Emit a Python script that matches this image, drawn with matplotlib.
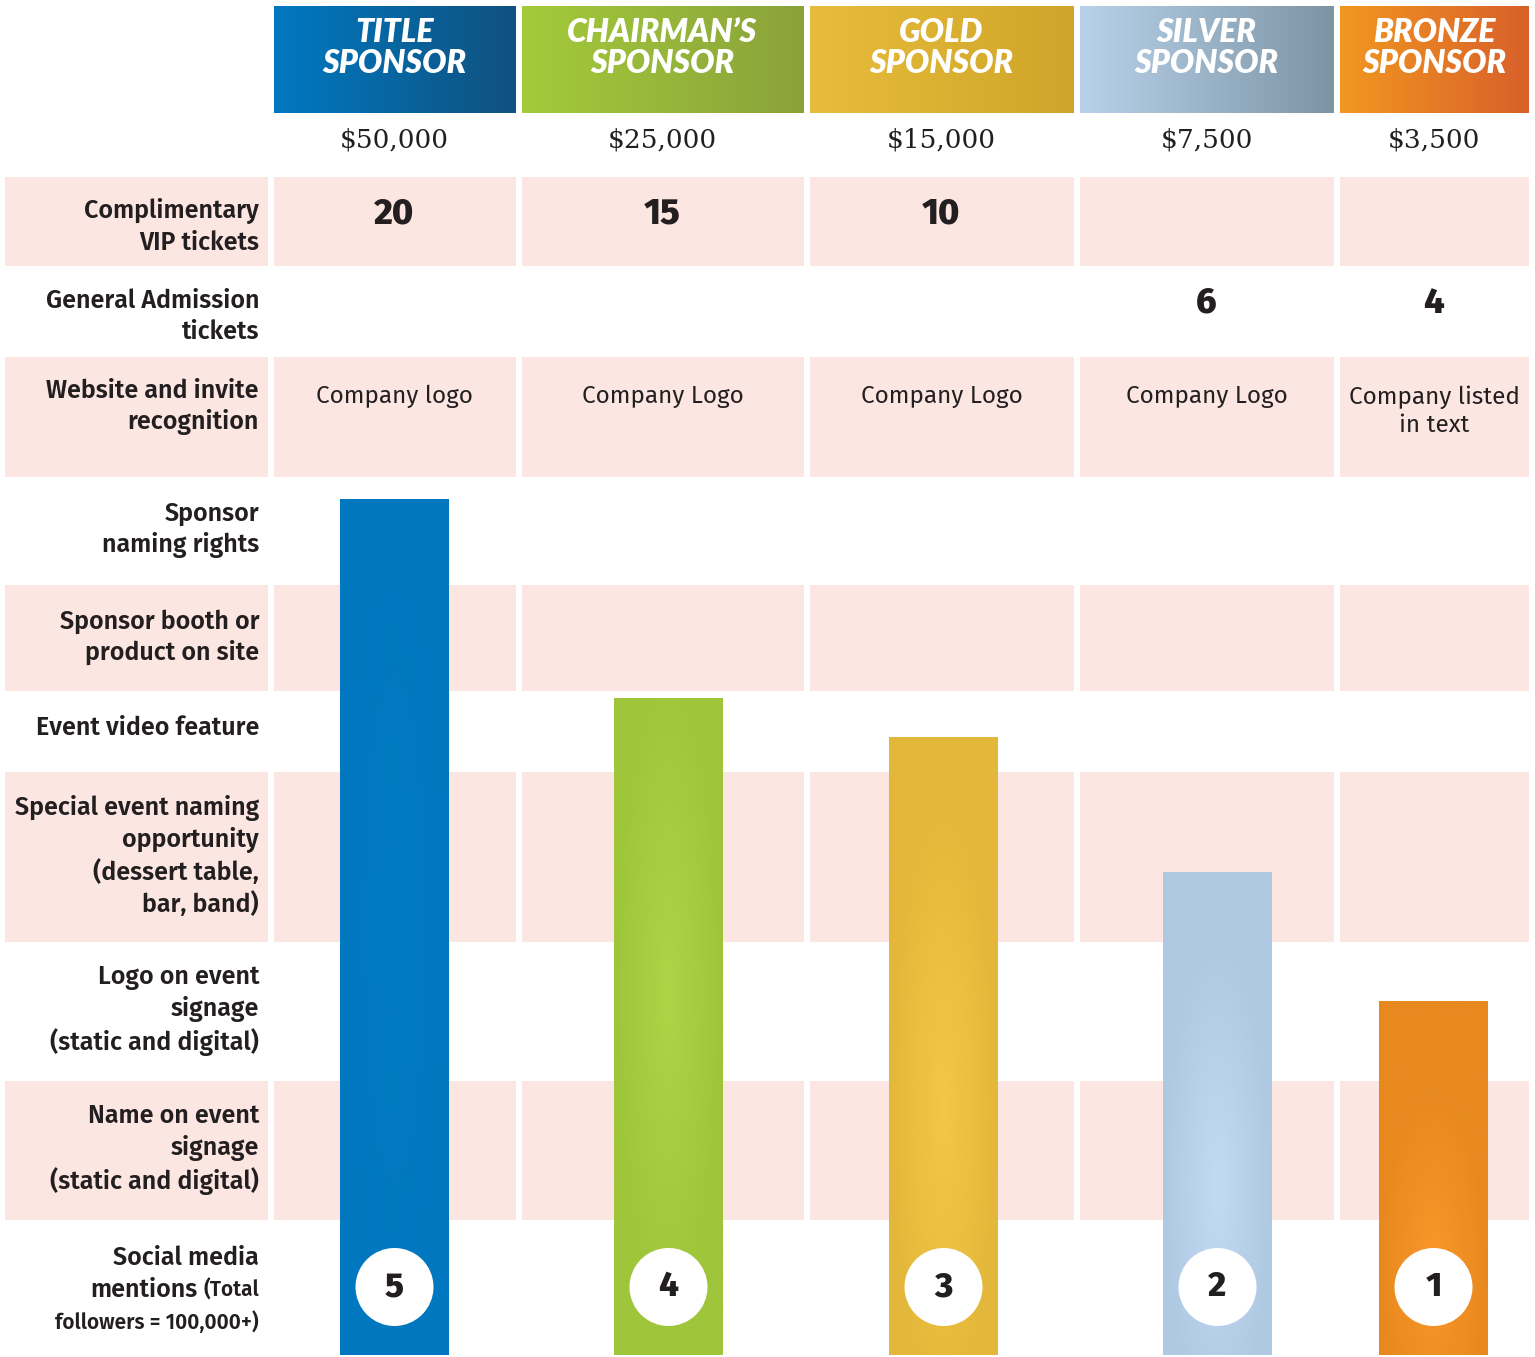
import numpy as np
import matplotlib
matplotlib.use('Agg')
import matplotlib.pyplot as plt
from matplotlib.patches import Rectangle, Circle
from matplotlib.colors import LinearSegmentedColormap, to_rgb

# tiers and their values
tiers = ['TITLE\nSPONSOR', 'CHAIRMAN\u2019S\nSPONSOR', 'GOLD\nSPONSOR', 'SILVER\nSPONSOR', 'BRONZE\nSPONSOR']
prices = ['$50,000', '$25,000', '$15,000', '$7,500', '$3,500']
vip_tickets = ['20', '15', '10', '', '']
ga_tickets = ['', '', '', '6', '4']
web_recognition = ['Company logo', 'Company Logo', 'Company Logo', 'Company Logo', 'Company listed\nin text']
social_mentions = [5, 4, 3, 2, 1]
bar_heights = [856, 657, 618, 483, 354]

row_labels = [
    'Complimentary\nVIP tickets',
    'General Admission\ntickets',
    'Website and invite\nrecognition',
    'Sponsor\nnaming rights',
    'Sponsor booth or\nproduct on site',
    'Event video feature',
    'Special event naming\nopportunity\n(dessert table,\nbar, band)',
    'Logo on event\nsignage\n(static and digital)',
    'Name on event\nsignage\n(static and digital)',
    '',
]

# layout (pixels)
W, H = 1535, 1357
col_left = [272, 520, 808, 1078, 1338]
col_right = [517, 805, 1075, 1335, 1530]
bar_x = [394.5, 668.5, 943.5, 1217.5, 1433.5]
bar_w = 109
bar_base = 1355
row_edges = [177, 266, 357, 477, 585, 691, 772, 942, 1081, 1220, 1357]
label_nudge = [5, 5, -10, -1, -1, -4, -1, -1, -1, 0]
head_top, head_bot = 6, 113

head_cols = [('#0079c1', '#10517f'), ('#a3cb3a', '#8aa23b'), ('#e8bd3b', '#cfa52a'),
             ('#b9d2ea', '#7c94a4'), ('#f29720', '#d8602a')]
bar_cols = ['#0077bf', '#9fc53b', '#e3b83a', '#b0c9e2', '#e8891f']
glow_amt = [0.01, 0.035, 0.035, 0.04, 0.035]
glow_y = [0.5, 0.45, 0.6, 0.65, 0.75]
pink = '#fbe6e1'
ink = '#231f20'

fig = plt.figure(figsize=(W / 100, H / 100), dpi=100, facecolor='white')
ax = fig.add_axes([0, 0, 1, 1])
ax.set_xlim(0, W)
ax.set_ylim(H, 0)
ax.axis('off')

# header boxes with horizontal gradient
for i, (c0, c1) in enumerate(head_cols):
    cmap = LinearSegmentedColormap.from_list('h%d' % i, [c0, c1])
    grad = np.linspace(0, 1, 256).reshape(1, -1)
    ax.imshow(grad, cmap=cmap, aspect='auto', interpolation='bilinear',
              extent=(col_left[i] + 1.5, col_right[i] - 1.5, head_bot, head_top), zorder=1)
    cx = (col_left[i] + col_right[i]) / 2
    ax.text(cx, 48, tiers[i], ha='center', va='center', color='white',
            fontsize=23, fontfamily='Lato', fontweight='heavy', style='italic',
            linespacing=1.1, zorder=3)
    ax.text(cx, 140, prices[i], ha='center', va='center', color=ink,
            fontsize=19, fontfamily='DejaVu Serif', zorder=3)

# pink bands
for r in range(len(row_edges) - 1):
    if r % 2 != 0:
        continue
    y0, y1 = row_edges[r], row_edges[r + 1]
    ax.add_patch(Rectangle((5, y0), 263, y1 - y0, facecolor=pink, edgecolor='none', zorder=0))
    for i in range(5):
        ax.add_patch(Rectangle((col_left[i] + 1.5, y0), col_right[i] - col_left[i] - 3, y1 - y0,
                               facecolor=pink, edgecolor='none', zorder=0))

# row labels
for r, lab in enumerate(row_labels):
    if not lab:
        continue
    y0, y1 = row_edges[r], row_edges[r + 1]
    yc = (y0 + y1) / 2 + label_nudge[r]
    ax.text(259, yc, lab, ha='right', va='center', color=ink, fontsize=18,
            fontfamily='Fira Sans', fontweight='semibold', linespacing=1.3, zorder=3)

# social media label with mixed sizes
lab_kw = dict(ha='right', va='baseline', color=ink, fontfamily='Fira Sans', fontweight='semibold', zorder=3)
ax.text(259, 1265, 'Social media', fontsize=18, **lab_kw)
small = ax.text(259, 1297, '(Total', fontsize=15, **lab_kw)
ax.text(259, 1329, 'followers = 100,000+)', fontsize=15, **lab_kw)
renderer = fig.canvas.get_renderer()
bb = small.get_window_extent(renderer)
left_x = ax.transData.inverted().transform((bb.x0, bb.y0))[0]
ax.text(left_x - 6, 1297, 'mentions', fontsize=18, **lab_kw)

# cell texts
for i in range(5):
    cx = (col_left[i] + col_right[i]) / 2
    if vip_tickets[i]:
        ax.text(cx, 214, vip_tickets[i], ha='center', va='center', color=ink, fontsize=26,
                fontfamily='Fira Sans', fontweight='heavy', zorder=3)
    if ga_tickets[i]:
        ax.text(cx, 303, ga_tickets[i], ha='center', va='center', color=ink, fontsize=26,
                fontfamily='Fira Sans', fontweight='heavy', zorder=3)
    ax.text(cx, 385, web_recognition[i], ha='center', va='top', color=ink, fontsize=17.5,
            fontfamily='Fira Sans', linespacing=1.3, zorder=3)

# bars (drawn upward from the base on an inverted axis)
bars = ax.bar(bar_x, [-h for h in bar_heights], width=bar_w, bottom=bar_base,
              color=bar_cols, edgecolor='none', zorder=2)
yy, xx = np.mgrid[0:1:200j, -1:1:60j]
for i, b in enumerate(bars):
    base = np.array(to_rgb(bar_cols[i]))
    light = np.clip(base * (1 + glow_amt[i]) + glow_amt[i], 0, 1)
    top = bar_base - bar_heights[i]
    d = np.sqrt(xx ** 2 + ((yy - glow_y[i]) * 2.0) ** 2)
    t = np.clip(1 - d, 0, 1)[..., None]
    img = base * (1 - t) + light * t
    im = ax.imshow(img, aspect='auto', interpolation='bilinear',
                   extent=(bar_x[i] - bar_w / 2, bar_x[i] + bar_w / 2, bar_base, top), zorder=2)
    im.set_clip_path(b)

# social mentions circles
for i, n in enumerate(social_mentions):
    ax.add_patch(Circle((bar_x[i], 1287), 39, facecolor='white', edgecolor='none', zorder=4))
    ax.text(bar_x[i], 1287, str(n), ha='center', va='center', color=ink, fontsize=25,
            fontfamily='Fira Sans', fontweight='heavy', zorder=5)

fig.savefig('out.png', dpi=100, facecolor='white')
